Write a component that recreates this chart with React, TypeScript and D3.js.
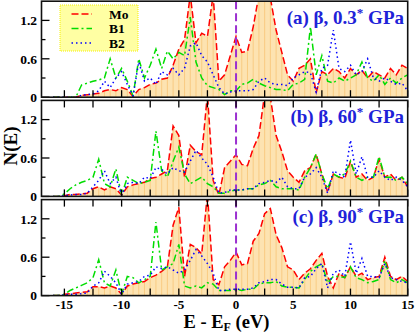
import React from "react";
import * as d3 from "d3";

// energy grid (eV), shared by every curve
const energy = [
  -16, -15.5, -15, -14.5, -14, -13.5, -13, -12.5, -12, -11.5,
  -11, -10.5, -10, -9.5, -9, -8.5, -8, -7.5, -7, -6.5,
  -6, -5.5, -5, -4.5, -4, -3.5, -3, -2.5, -2, -1.5,
  -1, -0.5, 0, 0.5, 1, 1.5, 2, 2.5, 3, 3.5,
  4, 4.5, 5, 5.5, 6, 6.5, 7, 7.5, 8, 8.5,
  9, 9.5, 10, 10.5, 11, 11.5, 12, 12.5, 13, 13.5,
  14, 14.5, 15,
];

// (a) 0.3 GPa
const moA = [
  0, 0, 0, 0, 0, 0.03, 0.04, 0.05, 0.06, 0.1,
  0.12, 0.1, 0.15, 0.12, 0.01, 0.12, 0.15, 0.2, 0.22, 0.28,
  0.3, 0.5, 0.75, 0.9, 1.6, 0.85, 1.0, 0.95, 1.6, 0.25,
  0.35, 0.65, 0.95, 0.7, 0.72, 1.1, 1.6, 1.6, 1.55, 1.05,
  0.7, 0.35, 0.25, 0.45, 0.5, 0.6, 0.07, 0.4, 0.35, 0.45,
  0.4, 0.3, 0.45, 0.35, 0.42, 0.3, 0.4, 0.35, 0.3, 0.45,
  0.35, 0.5, 0.45,
];
const b1A = [
  0, 0, 0, 0, 0, 0.19, 0.22, 0.25, 0.27, 0.3,
  0.6, 0.3, 0.45, 0.25, 0.02, 0.6, 0.3, 0.5, 0.75, 0.45,
  0.72, 0.6, 0.7, 0.65, 1.25, 0.55, 0.3, 0.18, 0.15, 0.12,
  0.04, 0.1, 0.1, 0.2, 0.22, 0.28, 0.22, 0.18, 0.15, 0.12,
  0.12, 0.1, 0.2, 0.22, 0.28, 1.1, 0.35, 0.65, 0.25, 0.22,
  0.3, 0.25, 0.3, 0.35, 0.55, 0.3, 0.25, 0.35, 0.2, 0.3,
  0.22, 0.3, 0.35,
];
const b2A = [
  0, 0, 0, 0, 0, 0.03, 0.04, 0.05, 0.1, 0.25,
  0.15, 0.3, 0.4, 0.2, 0.02, 0.55, 0.25, 0.3, 0.2, 0.4,
  0.35, 0.45, 0.35, 0.45, 0.8, 0.85, 0.65, 0.55, 0.35, 0.15,
  0.05, 0.08, 0.1, 0.1, 0.1, 0.12, 0.25, 0.3, 0.22, 0.2,
  0.2, 0.18, 0.3, 0.35, 0.4, 0.38, 0.08, 0.45, 0.5, 1.05,
  0.45, 0.4, 0.5, 0.35, 0.4, 0.6, 0.3, 0.25, 0.3, 0.25,
  0.2, 0.22, 0.1,
];

// (b) 60 GPa
const moB = [
  0, 0, 0.01, 0.03, 0.03, 0.04, 0.05, 0.12, 0.15, 0.1,
  0.15, 0.12, 0.02, 0.15, 0.18, 0.2, 0.22, 0.28, 0.3, 0.35,
  0.4, 1.1, 0.95, 0.3, 0.8, 0.7, 0.65, 1.6, 0.25, 0.02,
  0.45, 0.55, 0.65, 0.5, 0.48, 0.75, 0.95, 1.6, 1.55, 0.95,
  0.7, 0.4, 0.3, 0.22, 0.4, 0.45, 0.66, 0.35, 0.07, 0.35,
  0.3, 0.28, 0.55, 0.3, 0.35, 0.25, 0.3, 0.58, 0.3, 0.35,
  0.25, 0.3, 0.15,
];
const b1B = [
  0, 0, 0.04, 0.12, 0.18, 0.22, 0.25, 0.3, 0.58, 0.2,
  0.15, 0.43, 0.02, 0.3, 0.25, 0.2, 0.22, 0.25, 1.02, 0.4,
  0.3, 0.55, 0.77, 0.35, 0.2, 0.25, 0.3, 0.2, 0.15, 0.05,
  0.05, 0.08, 0.1, 0.1, 0.12, 0.12, 0.18, 0.2, 0.25, 0.15,
  0.12, 0.12, 0.12, 0.1, 0.3, 0.45, 0.66, 0.35, 0.12, 0.35,
  0.3, 0.35, 0.55, 0.3, 0.25, 0.3, 0.3, 0.62, 0.3, 0.3,
  0.25, 0.3, 0.2,
];
const b2B = [
  0, 0, 0.01, 0.02, 0.03, 0.03, 0.05, 0.15, 0.25, 0.4,
  0.2, 0.3, 0.02, 0.2, 0.22, 0.2, 0.3, 0.28, 0.45, 0.42,
  0.35, 0.45, 0.4, 0.38, 0.55, 0.72, 0.6, 0.5, 0.3, 0.05,
  0.06, 0.1, 0.1, 0.1, 0.12, 0.12, 0.2, 0.22, 0.25, 0.22,
  0.3, 0.15, 0.12, 0.12, 0.3, 0.35, 0.45, 0.3, 0.05, 0.4,
  0.35, 0.3, 0.88, 0.35, 0.62, 0.3, 0.3, 0.4, 0.3, 0.25,
  0.3, 0.25, 0.15,
];

// (c) 90 GPa
const moC = [
  0, 0, 0.02, 0.03, 0.04, 0.05, 0.06, 0.14, 0.14, 0.12,
  0.15, 0.12, 0.02, 0.15, 0.18, 0.2, 0.22, 0.28, 0.32, 0.38,
  0.45, 1.1, 1.38, 0.3, 0.8, 0.75, 0.65, 1.6, 0.25, 0.17,
  0.45, 0.55, 0.68, 0.48, 0.5, 0.85, 0.97, 1.28, 1.36, 0.95,
  0.75, 0.45, 0.4, 0.25, 0.35, 0.42, 0.55, 0.66, 0.3, 0.12,
  0.35, 0.28, 0.45, 0.3, 0.35, 0.25, 0.28, 0.3, 0.6, 0.3,
  0.25, 0.3, 0.22,
];
const b1C = [
  0, 0, 0.02, 0.08, 0.12, 0.16, 0.2, 0.28, 0.56, 0.2,
  0.15, 0.4, 0.02, 0.3, 0.28, 0.2, 0.25, 0.3, 1.15, 0.4,
  0.45, 0.5, 0.8, 0.15, 0.12, 0.15, 0.12, 0.2, 0.18, 0.08,
  0.08, 0.08, 0.1, 0.08, 0.1, 0.1, 0.18, 0.2, 0.2, 0.22,
  0.15, 0.13, 0.13, 0.12, 0.25, 0.38, 0.45, 0.5, 0.2, 0.3,
  0.3, 0.28, 0.45, 0.28, 0.25, 0.2, 0.22, 0.25, 0.55, 0.25,
  0.2, 0.25, 0.2,
];
const b2C = [
  0, 0, 0.01, 0.02, 0.02, 0.03, 0.04, 0.15, 0.2, 0.38,
  0.3, 0.2, 0.02, 0.18, 0.2, 0.22, 0.3, 0.32, 0.45, 0.42,
  0.45, 0.4, 0.35, 0.4, 0.55, 0.72, 0.62, 0.5, 0.35, 0.08,
  0.08, 0.1, 0.1, 0.1, 0.1, 0.12, 0.2, 0.22, 0.25, 0.25,
  0.18, 0.13, 0.13, 0.12, 0.28, 0.3, 0.42, 0.5, 0.12, 0.35,
  0.4, 0.3, 0.84, 0.35, 0.58, 0.3, 0.3, 0.28, 0.5, 0.28,
  0.25, 0.22, 0.2,
];

const panelLetters = ["(a)", "(b)", "(c)"];
const pressures = ["0.3", "60", "90"];
const seriesNames = ["Mo", "B1", "B2"];
const xTickValues = [-15, -10, -5, 0, 5, 10, 15];
const yTickValues = [0, 0.6, 1.2];

const panels = [
  [moA, b1A, b2A],
  [moB, b1B, b2B],
  [moC, b1C, b2C],
];

const colors = ["#ff0000", "#00dd00", "#0000ff"];
const dashes = ["7,3", "7,3,2,3", "1.5,3"];
const font = "'Liberation Serif', 'Times New Roman', serif";

const panelTops = [1.2, 100.4, 199.6];
const panelH = 96;

const x = d3.scaleLinear().domain([-17, 15]).range([41.5, 407.7]);
const minorX = d3.range(-15, 15.01, 2.5);
const minorY = [0.3, 0.9];

function Panel({ idx }: { idx: number }) {
  const top = panelTops[idx];
  const bottom = top + panelH;
  const y = d3.scaleLinear().domain([0, 1.5]).range([bottom, top]);
  const [mo, b1, b2] = panels[idx];
  const line = d3
    .line<number>()
    .x((_, i) => x(energy[i]))
    .y((d) => y(d));
  const area = d3
    .area<number>()
    .x((_, i) => x(energy[i]))
    .y0(y(0))
    .y1((d) => y(d));
  const clipId = `clip${idx}`;
  return (
    <g>
      <defs>
        <clipPath id={clipId}>
          <rect x={x(-17)} y={top} width={x(15) - x(-17)} height={panelH} />
        </clipPath>
      </defs>
      <g clipPath={`url(#${clipId})`}>
        <path d={area(mo) || ""} fill="#fde3b1" />
        {mo.map((v, i) =>
          v > 0 ? (
            <line
              key={i}
              x1={x(energy[i])}
              x2={x(energy[i])}
              y1={y(0)}
              y2={y(Math.min(v, 1.5))}
              stroke="#f7c577"
              strokeWidth={0.8}
            />
          ) : null
        )}
        {[mo, b1, b2].map((s, k) => (
          <path
            key={k}
            d={line(s) || ""}
            fill="none"
            stroke={colors[k]}
            strokeWidth={1.5}
            strokeDasharray={dashes[k]}
          />
        ))}
        <line
          x1={x(0)}
          x2={x(0)}
          y1={top}
          y2={bottom}
          stroke="#9b30d0"
          strokeWidth={2}
          strokeDasharray="8,4"
        />
      </g>
      {/* ticks */}
      {minorX.map((t) => (
        <g key={t}>
          <line x1={x(t)} x2={x(t)} y1={bottom} y2={bottom - 7} stroke="#000" strokeWidth={1.3} />
          {idx > 0 && (
            <line x1={x(t)} x2={x(t)} y1={top} y2={top + 7} stroke="#000" strokeWidth={1.3} />
          )}
        </g>
      ))}
      {yTickValues.map((t) => (
        <g key={t}>
          <line x1={x(-17)} x2={x(-17) + 8} y1={y(t)} y2={y(t)} stroke="#000" strokeWidth={1.3} />
          <text
            x={37}
            y={y(t)}
            dy="0.35em"
            textAnchor="end"
            fontFamily={font}
            fontWeight="bold"
            fontSize={13.5}
          >
            {t}
          </text>
        </g>
      ))}
      {minorY.map((t) => (
        <line key={t} x1={x(-17)} x2={x(-17) + 4} y1={y(t)} y2={y(t)} stroke="#000" strokeWidth={1.3} />
      ))}
      <rect
        x={x(-17)}
        y={top}
        width={x(15) - x(-17)}
        height={panelH}
        fill="none"
        stroke="#111"
        strokeWidth={1.6}
      />
      <text
        x={404}
        y={top + 23}
        textAnchor="end"
        fontFamily={font}
        fontWeight="bold"
        fontSize={19}
        fill="#1e22d8"
      >
        {`${panelLetters[idx]} β, ${pressures[idx]}`}
        <tspan dy={-7} fontSize={13}>*</tspan>
        <tspan dy={7}>{" GPa"}</tspan>
      </text>
      {idx === 2 &&
        xTickValues.map((t) => (
          <text
            key={t}
            x={x(t)}
            y={309}
            textAnchor="middle"
            fontFamily={font}
            fontWeight="bold"
            fontSize={13}
          >
            {t}
          </text>
        ))}
      {idx === 0 && (
        <g>
          <rect x={60} y={5} width={78} height={46} fill="#ffffa3" stroke="#f5f000" strokeWidth={1} strokeDasharray="1,1" />
          {seriesNames.map((n, k) => (
            <g key={n}>
              <line
                x1={71.5}
                x2={92}
                y1={14 + k * 14.5}
                y2={14 + k * 14.5}
                stroke={colors[k]}
                strokeWidth={1.5}
                strokeDasharray={dashes[k]}
              />
              <text x={109} y={18.8 + k * 14.5} fontFamily={font} fontWeight="bold" fontSize={13.5}>
                {n}
              </text>
            </g>
          ))}
        </g>
      )}
    </g>
  );
}

export default function App() {
  return (
    <svg
      width={415}
      height={334}
      style={{ position: "absolute", left: 0, top: 0, background: "#fff" }}
    >
      {[0, 1, 2].map((i) => (
        <Panel key={i} idx={i} />
      ))}
      <text
        transform="translate(17,146) rotate(-90)"
        textAnchor="middle"
        fontFamily={font}
        fontWeight="bold"
        fontSize={19}
      >
        N(E)
      </text>
      <text x={226.5} y={327.5} textAnchor="middle" fontFamily={font} fontWeight="bold" fontSize={18.5}>
        E - E
        <tspan dy={3} fontSize={12}>F</tspan>
        <tspan dy={-3}>{" (eV)"}</tspan>
      </text>
    </svg>
  );
}
